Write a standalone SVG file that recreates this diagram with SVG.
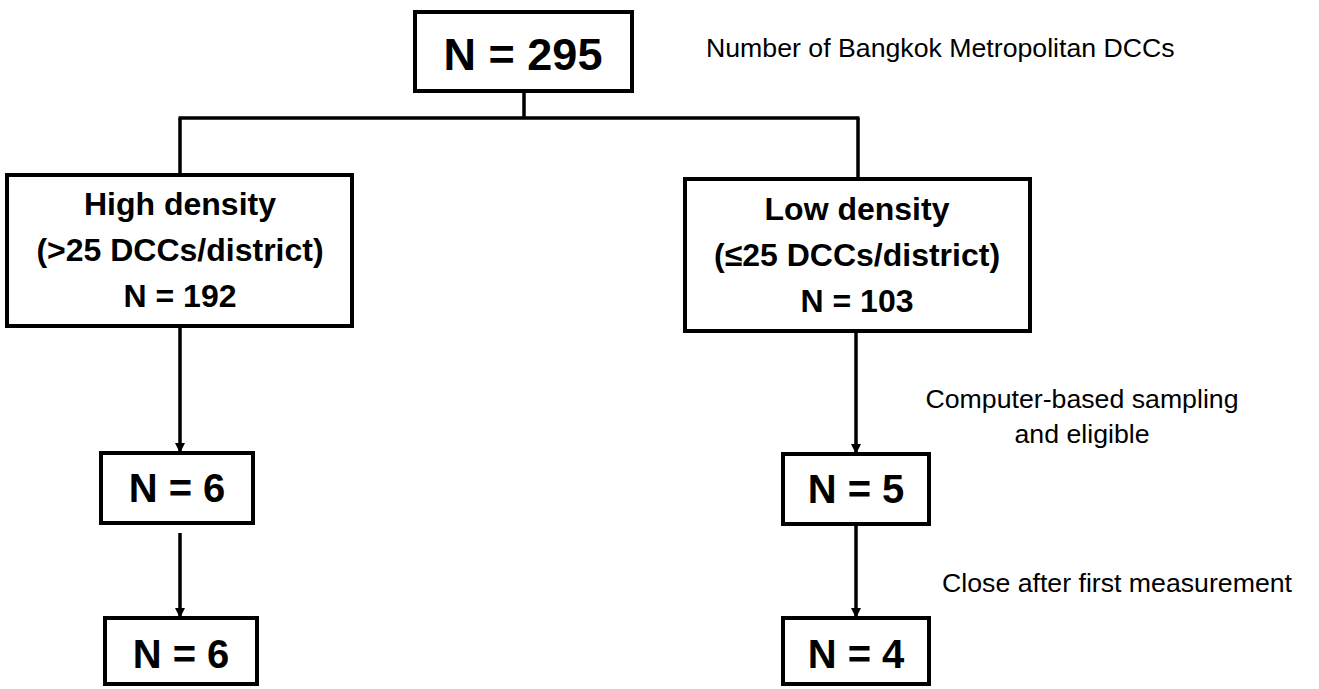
<svg xmlns="http://www.w3.org/2000/svg" width="1319" height="689" viewBox="0 0 1319 689">
<style>
.box{fill:#fff;stroke:#000;stroke-width:4}
.ln{fill:none;stroke:#000;stroke-width:3.5}
.b{font-family:"Liberation Sans",Arial,sans-serif;font-weight:bold;fill:#000;text-anchor:middle}
.n{font-family:"Liberation Sans",Arial,sans-serif;fill:#000;font-size:26.7px}
</style>
<defs>
<marker id="ah" viewBox="0 0 10 10" refX="10" refY="5" markerWidth="3" markerHeight="3.4" orient="auto" markerUnits="strokeWidth">
<path d="M0,0 L10,5 L0,10 z" fill="#000"/>
</marker>
</defs>
<g id="connectors">
<line class="ln" x1="524" y1="91" x2="524" y2="118"/>
<line class="ln" x1="178.5" y1="118" x2="859.5" y2="118"/>
<line class="ln" x1="180" y1="118" x2="180" y2="175"/>
<line class="ln" x1="858" y1="118" x2="858" y2="179"/>
<line class="ln" x1="180" y1="326" x2="180" y2="453" marker-end="url(#ah)"/>
<line class="ln" x1="180" y1="533" x2="180" y2="618" marker-end="url(#ah)"/>
<line class="ln" x1="856" y1="331" x2="856" y2="454" marker-end="url(#ah)"/>
<line class="ln" x1="856" y1="524" x2="856" y2="618" marker-end="url(#ah)"/>
</g>
<g id="n295">
<rect class="box" x="415" y="12" width="217" height="79"/>
<text class="b" x="523" y="70" font-size="45">N = 295</text>
</g>
<g id="high">
<rect class="box" x="7" y="175" width="345" height="151"/>
<text class="b" x="180" y="215" font-size="32">High density</text>
<text class="b" x="180" y="261" font-size="32">(&gt;25 DCCs/district)</text>
<text class="b" x="180" y="307" font-size="32">N = 192</text>
</g>
<g id="low">
<rect class="box" x="685" y="179" width="345" height="152"/>
<text class="b" x="857" y="220" font-size="32">Low density</text>
<text class="b" x="857" y="266" font-size="32">(≤25 DCCs/district)</text>
<text class="b" x="857" y="312" font-size="32">N = 103</text>
</g>
<g id="h6a">
<rect class="box" x="101" y="453" width="152" height="70"/>
<text class="b" x="177" y="502" font-size="40">N = 6</text>
</g>
<g id="h6b">
<rect class="box" x="105" y="618" width="152" height="66"/>
<text class="b" x="181" y="668" font-size="40">N = 6</text>
</g>
<g id="l5">
<rect class="box" x="783" y="454" width="146" height="70"/>
<text class="b" x="856" y="503" font-size="40">N = 5</text>
</g>
<g id="l4">
<rect class="box" x="783" y="618" width="146" height="66"/>
<text class="b" x="856" y="668" font-size="40">N = 4</text>
</g>
<g id="labels">
<text class="n" x="706" y="57">Number of Bangkok Metropolitan DCCs</text>
<text class="n" x="1082" y="408" text-anchor="middle">Computer-based sampling</text>
<text class="n" x="1082" y="443" text-anchor="middle">and eligible</text>
<text class="n" x="942" y="592">Close after first measurement</text>
</g>
</svg>
